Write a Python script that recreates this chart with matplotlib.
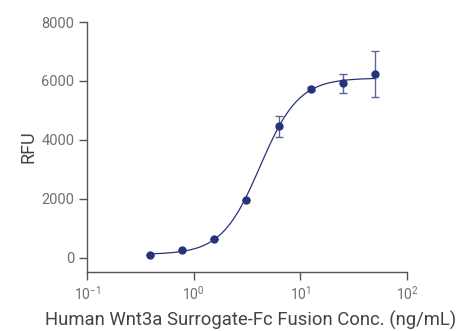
import numpy as np
import matplotlib
matplotlib.use("Agg")
import matplotlib.pyplot as plt
from matplotlib.ticker import LogLocator, NullLocator

# Measured data (doubling dilution series)
conc = [0.39, 0.78, 1.56, 3.125, 6.25, 12.5, 25, 50]
rfu = [100, 280, 640, 1975, 4470, 5730, 5920, 6230]
rfu_err = [0, 0, 0, 0, 360, 80, 330, 780]

# 4PL fit parameters
fit_bottom = 120
fit_top = 6100
fit_ec50 = 4.2
fit_hill = 2.4

plt.rcParams["font.family"] = ["Roboto", "DejaVu Sans"]
plt.rcParams["mathtext.fontset"] = "custom"
plt.rcParams["mathtext.rm"] = "Roboto"
plt.rcParams["mathtext.it"] = "Roboto"
plt.rcParams["axes.unicode_minus"] = False

navy = "#26337a"
gray = "#707070"

fig = plt.figure(figsize=(4.59, 3.31), dpi=100)
ax = fig.add_axes([87 / 459, 1 - 272 / 331, 320 / 459, 250 / 331])

xs = np.logspace(np.log10(conc[0]), np.log10(conc[-1]), 300)
ys = fit_bottom + (fit_top - fit_bottom) / (1 + (fit_ec50 / xs) ** fit_hill)
ax.plot(xs, ys, color=navy, linewidth=0.9)

ax.errorbar(conc, rfu, yerr=rfu_err, fmt="none", ecolor="#5b6699",
            elinewidth=1.0, capsize=3, capthick=1.0)
ax.plot(conc, rfu, "o", color=navy, markersize=5)

ax.set_xscale("log")
ax.set_xlim(0.1, 100)
ax.set_ylim(-475, 8000)
ax.xaxis.set_major_locator(LogLocator(base=10, numticks=10))
ax.xaxis.set_minor_locator(NullLocator())
ax.set_yticks([0, 2000, 4000, 6000, 8000])

for side in ["top", "right"]:
    ax.spines[side].set_visible(False)
for side in ["left", "bottom"]:
    ax.spines[side].set_color("#555555")
    ax.spines[side].set_linewidth(1.0)

ax.tick_params(axis="both", colors="#555555", labelcolor=gray,
               length=6, width=1.0, direction="out")
ax.tick_params(axis="y", labelsize=10.5, pad=3)
ax.tick_params(axis="x", labelsize=10, pad=3)

ax.set_ylabel("RFU", fontsize=13, color="#444444", labelpad=3)
ax.set_xlabel("Human Wnt3a Surrogate-Fc Fusion Conc. (ng/mL)",
              fontsize=13.3, color="#444444")
ax.xaxis.set_label_coords(0.5125, -0.155)
ax.xaxis.label.set_verticalalignment("top")

fig.savefig("out.png", dpi=100)
